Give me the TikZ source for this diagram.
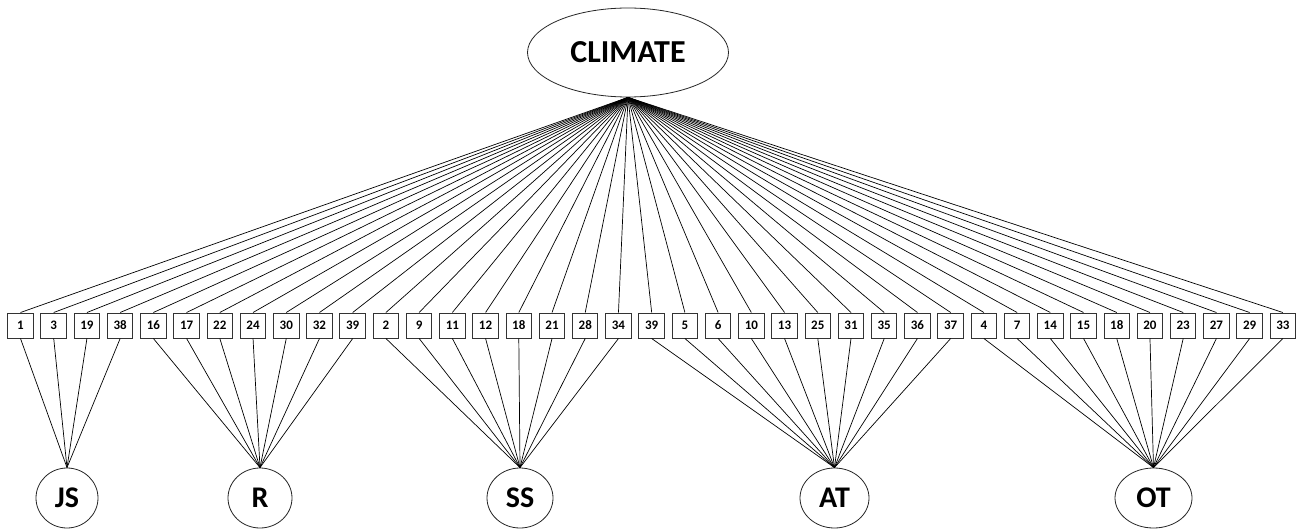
\documentclass[tikz,border=0pt]{standalone}
\usepackage{fontspec}
\setmainfont{Carlito}
\usetikzlibrary{shapes.geometric}
\tikzset{
  conn/.style={draw=black, line width=0.7pt},
  itembox/.style={draw=black!80, line width=1pt, fill=white, minimum width=25.5pt, minimum height=25pt, inner sep=0pt, font=\bfseries\fontsize{13}{13}\selectfont},
  factor/.style={draw=black!85, line width=0.8pt, ellipse, fill=white, minimum height=60pt, inner sep=0pt, font=\bfseries\fontsize{30}{30}\selectfont},
  topnode/.style={draw=black!85, line width=0.8pt, ellipse, fill=white, minimum width=201pt, minimum height=89pt, inner sep=0pt, font=\bfseries\fontsize{32}{32}\selectfont}
}
\begin{document}
\begin{tikzpicture}[x=1pt,y=-1pt]
\useasboundingbox (0,0) rectangle (1303,529);
\node[topnode] (climate) at (628,52.5) {CLIMATE};
\node[factor, minimum width=62pt] (js) at (67,498) {JS};
\node[factor, minimum width=64pt] (r) at (260,498) {R};
\node[factor, minimum width=66pt] (ss) at (520,498) {SS};
\node[factor, minimum width=69pt] (at) at (834.5,498) {AT};
\node[factor, minimum width=77pt] (ot) at (1153.5,498) {OT};
\foreach \lab [count=\i] in {1,3,19,38,16,17,22,24,30,32,39,2,9,11,12,18,21,28,34,39,5,6,10,13,25,31,35,36,37,4,7,14,15,18,20,23,27,29,33}{
  \node[itembox] (b\i) at ({20.5+33.22*(\i-1)},325.5) {\lab};
  \draw[conn] (climate.south) -- (b\i.north);
}
\foreach \i in {1,...,4} \draw[conn] (b\i.south) -- (js.north);
\foreach \i in {5,...,11} \draw[conn] (b\i.south) -- (r.north);
\foreach \i in {12,...,19} \draw[conn] (b\i.south) -- (ss.north);
\foreach \i in {20,...,29} \draw[conn] (b\i.south) -- (at.north);
\foreach \i in {30,...,39} \draw[conn] (b\i.south) -- (ot.north);
\end{tikzpicture}
\end{document}
